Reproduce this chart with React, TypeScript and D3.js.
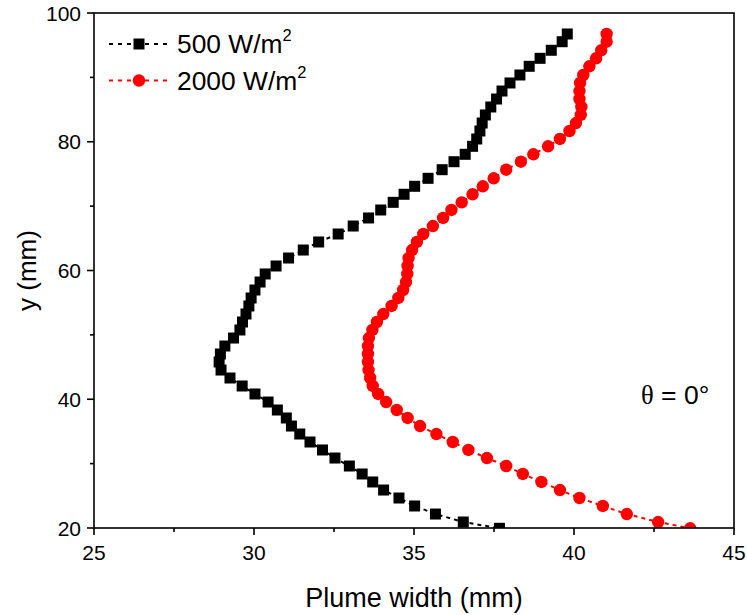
import React from "react";
import * as d3 from "d3";

// shared heights (mm)
const heightMm = [
  96.74, 95.54, 94.21, 92.96, 91.72, 90.37, 89.13, 87.88, 86.64, 85.4, 84.16, 82.91, 81.67, 80.43, 79.29,
  78.05, 76.9, 75.66, 74.32, 73.08, 71.84, 70.59, 69.4, 68.16, 66.91, 65.67, 64.43, 63.18, 61.94, 60.7,
  59.46, 58.21, 56.97, 55.73, 54.49, 53.24, 52.0, 50.76, 49.51, 48.27, 47.03, 45.79, 44.54, 43.3, 42.06,
  40.82, 39.57, 38.33, 37.09, 35.84, 34.6, 33.36, 32.12, 30.87, 29.63, 28.39, 27.15, 25.9, 24.66, 23.42,
  22.17, 20.93, 19.95,
];

// plume width (mm), 500 W/m2
const width500 = [
  39.79, 39.63, 39.29, 38.94, 38.6, 38.31, 38.0, 37.75, 37.58, 37.4, 37.23, 37.13, 37.06, 36.96, 36.83,
  36.6, 36.25, 35.88, 35.44, 35.02, 34.69, 34.35, 33.96, 33.58, 33.1, 32.63, 32.02, 31.54, 31.08, 30.69,
  30.35, 30.19, 30.03, 29.91, 29.84, 29.75, 29.64, 29.56, 29.36, 29.09, 28.95, 28.91, 28.97, 29.25, 29.63,
  30.03, 30.44, 30.73, 31.01, 31.17, 31.43, 31.75, 32.14, 32.53, 32.98, 33.38, 33.71, 34.05, 34.53, 35.02,
  35.67, 36.54, 37.67,
];

// plume width (mm), 2000 W/m2
const width2000 = [
  41.02, 41.02, 40.85, 40.69, 40.48, 40.29, 40.19, 40.17, 40.17, 40.23, 40.21, 40.06, 39.86, 39.56, 39.19,
  38.73, 38.34, 37.88, 37.49, 37.15, 36.83, 36.49, 36.17, 35.91, 35.59, 35.29, 35.09, 34.94, 34.83, 34.8,
  34.79, 34.75, 34.66, 34.51, 34.3, 34.04, 33.84, 33.7, 33.59, 33.56, 33.56, 33.56, 33.58, 33.63, 33.71,
  33.88, 34.13, 34.46, 34.8, 35.19, 35.7, 36.21, 36.7, 37.28, 37.88, 38.4, 38.98, 39.56, 40.17, 40.9,
  41.65, 42.63, 43.63,
];

const xTicks = [25, 30, 35, 40, 45];
const xMinorTicks = [27.5, 32.5, 37.5, 42.5];
const yTicks = [20, 40, 60, 80, 100];
const yMinorTicks = [30, 50, 70, 90];

const seriesNames = ["500 W/m", "2000 W/m"];
const seriesColors = ["#000000", "#ff0000"];

const FONT = "'Liberation Sans', Arial, Helvetica, sans-serif";

export default function App() {
  const W = 747;
  const H = 615;
  const left = 94, right = 734, top = 13, bottom = 528;
  const x = d3.scaleLinear().domain([25, 45]).range([left, right]);
  const y = d3.scaleLinear().domain([20, 100]).range([bottom, top]);

  const series = [width500, width2000].map((w, i) => ({
    name: seriesNames[i],
    color: seriesColors[i],
    pts: w.map((v, j) => [v, heightMm[j]] as [number, number]),
  }));

  const line = d3
    .line<[number, number]>()
    .x((d) => x(d[0]))
    .y((d) => y(d[1]));

  const sq = 11;
  const r = 6.2;

  return (
    <svg
      width={W}
      height={H}
      style={{ position: "absolute", left: 0, top: 0, background: "#fff" }}
      fontFamily={FONT}
    >
      <rect x={0} y={0} width={W} height={H} fill="#fff" />
      <defs>
        <clipPath id="plotClip">
          <rect x={left} y={top} width={right - left} height={bottom - top} />
        </clipPath>
      </defs>

      <g clipPath="url(#plotClip)">
        {series.map((s, i) => (
          <g key={i}>
            <path
              d={line(s.pts) || ""}
              fill="none"
              stroke={s.color}
              strokeWidth={2}
              strokeDasharray="4 4"
            />
            {s.pts.map((p, j) =>
              i === 0 ? (
                <rect
                  key={j}
                  x={x(p[0]) - sq / 2}
                  y={y(p[1]) - sq / 2}
                  width={sq}
                  height={sq}
                  fill={s.color}
                />
              ) : (
                <circle key={j} cx={x(p[0])} cy={y(p[1])} r={r} fill={s.color} />
              )
            )}
          </g>
        ))}
      </g>

      {/* frame */}
      <rect
        x={left}
        y={top}
        width={right - left}
        height={bottom - top}
        fill="none"
        stroke="#000"
        strokeWidth={1.6}
      />

      {/* x ticks */}
      {xTicks.map((t) => (
        <g key={"xt" + t}>
          <line x1={x(t)} x2={x(t)} y1={bottom} y2={bottom + 7} stroke="#000" strokeWidth={1.6} />
          <text x={x(t)} y={560} textAnchor="middle" fontSize={21} fill="#000">
            {t}
          </text>
        </g>
      ))}
      {xMinorTicks.map((t) => (
        <line key={"xm" + t} x1={x(t)} x2={x(t)} y1={bottom} y2={bottom + 4} stroke="#000" strokeWidth={1.6} />
      ))}

      {/* y ticks */}
      {yTicks.map((t) => (
        <g key={"yt" + t}>
          <line x1={left - 7} x2={left} y1={y(t)} y2={y(t)} stroke="#000" strokeWidth={1.6} />
          <text x={81} y={y(t) + 7.5} textAnchor="end" fontSize={21} fill="#000">
            {t}
          </text>
        </g>
      ))}
      {yMinorTicks.map((t) => (
        <line key={"ym" + t} x1={left - 4} x2={left} y1={y(t)} y2={y(t)} stroke="#000" strokeWidth={1.6} />
      ))}

      {/* axis titles */}
      <text x={(left + right) / 2} y={607} textAnchor="middle" fontSize={27} fill="#000">
        Plume width (mm)
      </text>
      <text
        transform={`translate(36, ${(top + bottom) / 2}) rotate(-90)`}
        textAnchor="middle"
        fontSize={26}
        fill="#000"
      >
        y (mm)
      </text>

      {/* legend */}
      {series.map((s, i) => {
        const ly = 44 + i * 36.5;
        return (
          <g key={"lg" + i}>
            <line x1={109} x2={169} y1={ly} y2={ly} stroke={s.color} strokeWidth={2} strokeDasharray="4 5" />
            {i === 0 ? (
              <rect x={139 - sq / 2} y={ly - sq / 2} width={sq} height={sq} fill={s.color} />
            ) : (
              <circle cx={139} cy={ly} r={r} fill={s.color} />
            )}
            <text x={177} y={ly + 9.3} fontSize={26.4} fill="#000">
              {s.name}
              <tspan fontSize={16.5} dy={-12}>2</tspan>
            </text>
          </g>
        );
      })}

      {/* annotation */}
      <text x={641} y={404} fontSize={26.5} fill="#000">
        <tspan fontFamily="'Liberation Serif', 'Times New Roman', serif">θ</tspan>
        <tspan> = 0°</tspan>
      </text>
    </svg>
  );
}
